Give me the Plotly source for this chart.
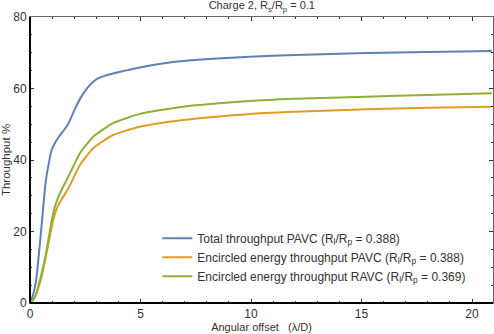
import plotly.graph_objects as go

# Curve samples
x_total = [0, 0.1, 0.27, 0.5, 0.72, 0.98, 1.28, 1.65, 1.8, 2.05, 2.33, 2.6, 2.86,
           3.1, 3.4, 3.76, 4.3, 4.97, 5.7, 6.47, 7.3, 8.27, 9.93, 12, 15.2, 18, 20.9]
y_total = [0, 1.5, 6, 20, 34.4, 42.8, 46.3, 49.3, 51.0, 54.5, 57.8, 60.2, 61.9,
           62.9, 63.6, 64.2, 65.0, 65.9, 66.7, 67.4, 67.9, 68.3, 68.9, 69.4, 69.9, 70.2, 70.5]

x_ee = [0, 0.08, 0.23, 0.53, 0.75, 1.05, 1.28, 1.73, 2.26, 2.86, 3.76, 4.97,
        6.92, 9.93, 12, 15.2, 18, 20.9]
y_ee_pavc = [0, 0.4, 1.8, 7.5, 14, 23.2, 27.4, 32, 38.6, 43.3, 47, 49.3,
             51.2, 52.9, 53.5, 54.2, 54.6, 54.9]
y_ee_ravc = [0, 0.4, 1.8, 8.4, 14.8, 25.2, 29.7, 35.3, 41.9, 46.5, 50.3, 52.9,
             54.9, 56.5, 57.1, 57.7, 58.2, 58.7]

names = [
    "Total throughput PAVC (R<sub>l</sub>/R<sub>p</sub> = 0.388)",
    "Encircled energy throughput PAVC (R<sub>l</sub>/R<sub>p</sub> = 0.388)",
    "Encircled energy throughput RAVC (R<sub>l</sub>/R<sub>p</sub> = 0.369)",
]
colors = ["#5e81b5", "#e19c24", "#8fb032"]

fig = go.Figure()
for xs, ys, name, c in [(x_total, y_total, names[0], colors[0]),
                        (x_ee, y_ee_pavc, names[1], colors[1]),
                        (x_ee, y_ee_ravc, names[2], colors[2])]:
    fig.add_trace(go.Scatter(x=xs, y=ys, mode="lines", name=name,
                             line=dict(color=c, width=2, shape="spline", smoothing=0.5)))

fig.update_layout(
    width=494, height=334,
    margin=dict(l=30, r=1, t=17, b=31),
    paper_bgcolor="white", plot_bgcolor="white",
    font=dict(family="Liberation Sans, Arial, sans-serif", size=11, color="#333"),
    title=dict(text="Charge 2, R<sub>s</sub>/R<sub>p</sub> = 0.1", x=0.53, xanchor="center",
               y=0.995, yanchor="top", font=dict(size=11, color="#333")),
    legend=dict(x=0.275, y=0.277, xanchor="left", yanchor="top", bgcolor="rgba(0,0,0,0)",
                font=dict(size=12, color="#333"), itemwidth=30),
    showlegend=True,
)
fig.update_xaxes(
    range=[0, 20.95], tickvals=[0, 5, 10, 15, 20], showgrid=False, zeroline=False,
    showline=True, linecolor="#666", linewidth=1, mirror="allticks",
    ticks="inside", ticklen=4, tickcolor="#333",
    minor=dict(ticks="inside", dtick=1, ticklen=2, tickcolor="#333"),
    tickfont=dict(size=12, color="#333"),
    title=dict(text="Angular offset   (λ/D)", font=dict(size=11, color="#333"), standoff=2),
)
fig.update_yaxes(
    range=[0, 80], tickvals=[0, 20, 40, 60, 80], showgrid=False, zeroline=False,
    showline=True, linecolor="#666", linewidth=1, mirror="allticks",
    ticks="inside", ticklen=4, tickcolor="#333",
    minor=dict(ticks="inside", dtick=5, ticklen=2, tickcolor="#333"),
    tickfont=dict(size=12, color="#333"),
    title=dict(text="Throughput %", font=dict(size=11.5, color="#333"), standoff=2),
)
# heavier black left and bottom frame lines
fig.add_shape(type="line", xref="paper", yref="paper", x0=0, x1=1, y0=0, y1=0,
              line=dict(color="black", width=2))
fig.add_shape(type="line", xref="paper", yref="paper", x0=0, x1=0, y0=0, y1=1,
              line=dict(color="black", width=2))

fig.write_html("out.html", config={"displayModeBar": False},
               post_script="document.body.style.margin='0';document.body.style.overflow='hidden';")
